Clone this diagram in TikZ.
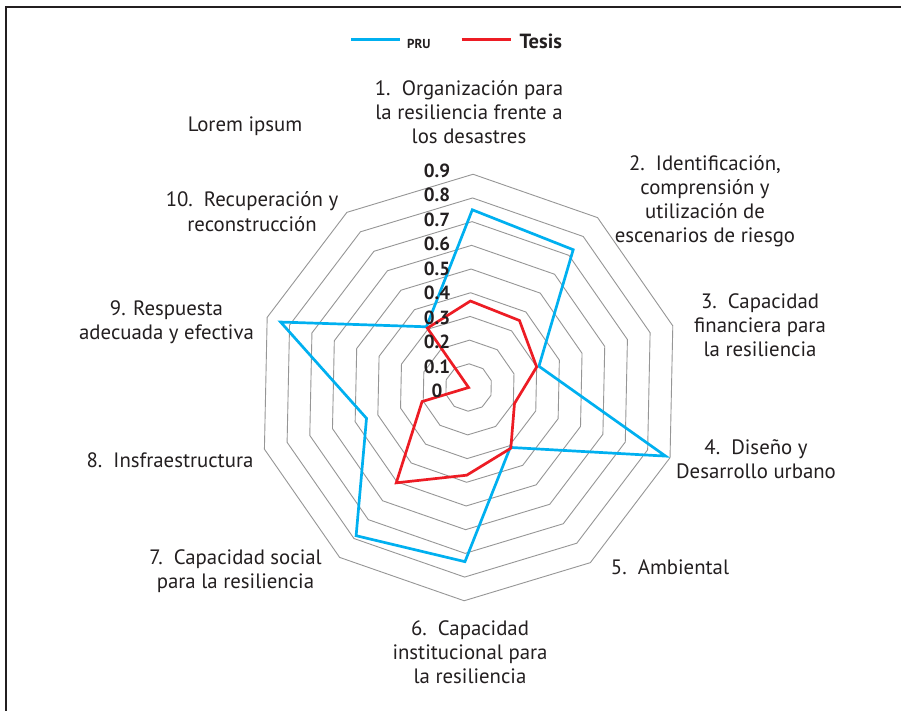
\documentclass[tikz,border=0pt]{standalone}
\usepackage{fontspec}
\setmainfont{PT Sans}
\definecolor{ink}{HTML}{231F20}
\definecolor{prublue}{RGB}{0,176,240}
\definecolor{tesisred}{RGB}{237,28,36}
\definecolor{ringgray}{RGB}{150,150,150}
\begin{document}
\begin{tikzpicture}[x=1pt,y=-1pt,
  lbl/.style={inner sep=0pt, align=center, text=ink, font=\fontsize{20.8}{24.2}\selectfont},
  tick/.style={inner sep=0pt, text=ink, font=\bfseries\fontsize{19}{22}\selectfont},
  ring/.style={draw=ringgray, line width=0.9pt},
  prustyle/.style={draw=prublue, line width=2.7pt, line join=miter},
  tesisstyle/.style={draw=tesisred, line width=2.7pt, line join=miter}]
\useasboundingbox (0,0) rectangle (901,710);
\fill[white] (0,0) rectangle (901,710);
% frame
\draw[ink, line width=2pt] (6,711) -- (6,7) -- (902,7);

% legend
\coordinate (pa) at (351,39.3);
\coordinate (pb) at (400,39.3);
\coordinate (ta) at (461.5,39.3);
\coordinate (tb) at (510.5,39.3);
\draw[prublue, line width=2.7pt] (pa) -- (pb);
\draw[tesisred, line width=2.7pt] (ta) -- (tb);
\node[inner sep=0pt, anchor=base west, text=ink, font=\bfseries\fontsize{13}{16}\selectfont] (pru) at (407,48.3) {PRU};
\node[inner sep=0pt, anchor=base west, text=ink, font=\bfseries\fontsize{20.5}{22}\selectfont] (tesis) at (519.5,48.3) {Tesis};

% radar grid and series
\begin{scope}[shift={(468.6,387.5)}, x=23.7pt, y=23.7pt, rotate=-1.2]
  \foreach \k in {1,...,9}
    \draw[ring] (90:\k) -- (54:\k) -- (18:\k) -- (-18:\k) -- (-54:\k) -- (-90:\k)
      -- (-126:\k) -- (-162:\k) -- (162:\k) -- (126:\k) -- cycle;
  \draw[prustyle] (90:7.5) -- (54:7.3) -- (18:3.1) -- (-18:8.8) -- (-54:3.08)
    -- (-90:7.35) -- (-126:7.85) -- (-162:4.5) -- (162:8.4) -- (126:3.12) -- cycle;
  \draw[tesisstyle] (90:3.65) -- (54:3.55) -- (18:3.0) -- (-18:2.05) -- (-54:3.12)
    -- (-90:3.7) -- (-126:5.05) -- (-162:2.05) -- (162:0) -- (126:3.05) -- cycle;
\end{scope}

% scale values
\foreach \v/\yy in {0/391,0.1/366.5,0.2/342,0.3/317.5,0.4/293,0.5/268.5,0.6/244,0.7/219.5,0.8/195,0.9/170.5}
  \node[tick] (v\v) at (437,\yy) {\v};

% axis labels
\node[lbl] (l1) at (469,112) {1.\ \ Organización para\\la resiliencia frente a\\los desastres};
\node[lbl] (lorem) at (245,126) {Lorem ipsum};
\node[lbl] (l2) at (705,201.3) {2.\ \ Identificación,\\comprensión y\\utilización de\\escenarios de riesgo};
\node[lbl] (l3) at (760,325) {3.\ \ Capacidad\\financiera para\\la resiliencia};
\node[lbl] (l4) at (756,459.3) {4.\ \ Diseño y\\Desarrollo urbano};
\node[lbl] (l5) at (670,567) {5.\ \ Ambiental};
\node[lbl] (l6) at (470,652.2) {6.\ \ Capacidad\\institucional para\\la resiliencia};
\node[lbl] (l7) at (235.5,571) {7.\ \ Capacidad social\\para la resiliencia};
\node[lbl] (l8) at (170,460) {8.\ \ Insfraestructura};
\node[lbl] (l9) at (166.5,322.5) {9. Respuesta\\adecuada y efectiva};
\node[lbl] (l10) at (252,211.7) {10.\ \ Recuperación y\\reconstrucción};
\end{tikzpicture}
\end{document}
